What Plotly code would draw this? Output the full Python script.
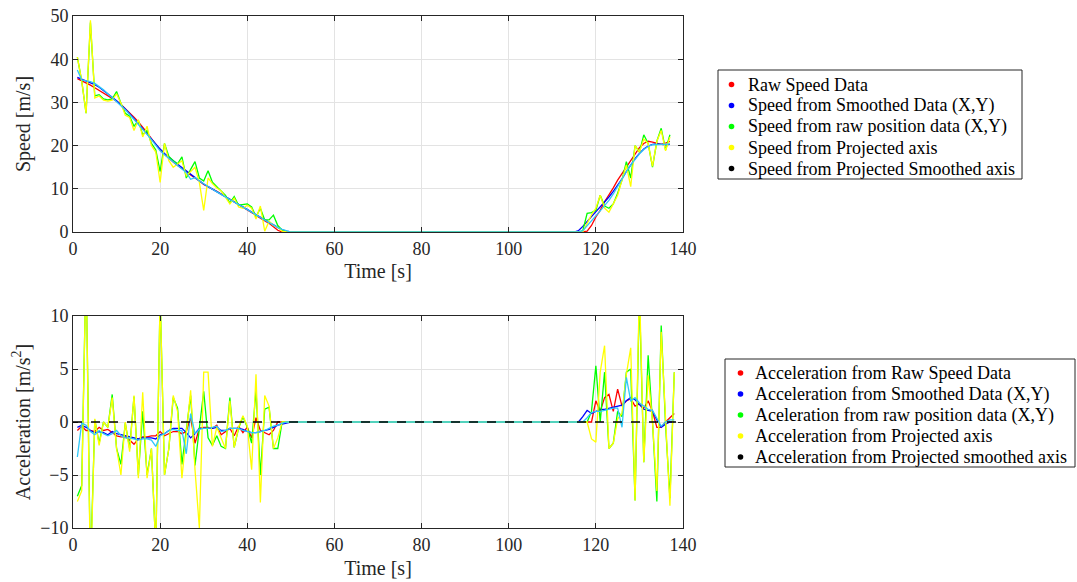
import plotly.graph_objects as go

# ---------------- data ----------------
t_speed = list(range(1, 51)) + list(range(115, 138))
t_acc = list(range(1, 51)) + list(range(115, 139))

speed_raw = [35.5, 35, 34.6, 34, 33.4, 32.8, 32.2, 31.6, 31, 30.3,
             29.5, 28.6, 27.6, 26.6, 25.5, 24.3, 23, 21.6, 20.2, 19,
             18, 17, 16.2, 15.4, 14.8, 14, 13.2, 12.6, 11.8, 11,
             10.5, 10, 9.4, 8.8, 8.2, 7.6, 7, 6.3, 5.6, 5,
             4.5, 3.8, 3.2, 2.6, 2, 1.2, 0.4, 0, 0, 0,
             0, 0, 0, 0.2, 1.5, 3.5, 5, 7, 8.5, 10.2,
             12, 13.5, 15, 16.5, 18, 19.5, 20.5, 21, 20.8, 20.5,
             20.3, 20.6, 21]
speed_smooth = [35.8, 35.4, 35, 34.6, 34.1, 33.5, 32.8, 32, 31.2, 30.4,
                29.5, 28.5, 27.4, 26.3, 25.1, 23.9, 22.7, 21.5, 20.3, 19.2,
                18.2, 17.3, 16.5, 15.7, 14.9, 14.1, 13.3, 12.5, 11.8, 11.1,
                10.5, 9.9, 9.3, 8.7, 8.1, 7.5, 6.9, 6.3, 5.7, 5.1,
                4.5, 3.9, 3.3, 2.7, 2.1, 1.5, 1.0, 0.5, 0.2, 0,
                0, 0.3, 1.3, 2.4, 3.5, 4.6, 5.7, 6.9, 8.1, 9.4,
                10.8, 12.3, 14, 15.6, 17, 18.2, 19.2, 19.9, 20.3, 20.4,
                20.3, 20.2, 20.3]
speed_rawpos = [40.5, 35, 27.5, 48.5, 31.5, 31.8, 30.8, 30.6, 30.8, 32.5,
                29.8, 27.5, 26.8, 24.5, 25.8, 22.5, 23.5, 20.5, 19, 14,
                20.5, 17.5, 16.5, 15.8, 17.4, 12.5, 14.5, 16.3, 12.5, 11.8,
                14.2, 11.5, 10.5, 9.6, 8.5, 6.7, 8.2, 6.2, 6.3, 6.5,
                5.8, 3.5, 5.5, 2.8, 2.8, 3.9, 1.5, 0.4, 0, 0,
                0, 0, 0.3, 4.3, 4.5, 5, 8.5, 6, 5.5, 6.5,
                9, 12, 16.3, 12.5, 20, 18.5, 22.5, 20.5, 15, 21,
                24, 19, 22.5]
speed_proj = [40.5, 35, 27.5, 49, 31, 31.5, 30.5, 30.3, 30.5, 32,
              29.8, 27, 26.5, 23.5, 26, 22, 24.5, 20, 18.5, 11.5,
              20.5, 16.5, 15, 15.8, 16.5, 13, 14, 15, 11.5, 5,
              12.5, 11.2, 10.2, 9.5, 8, 6.5, 7.8, 5.8, 5.5, 6.2,
              5.5, 3, 6, 0.2, 2.5, 1.5, 1.1, 0.2, 0, 0,
              0, 0, 0, 2, 4, 5.5, 8.5, 5.5, 4.6, 6.5,
              8.5, 12, 15.5, 10.5, 20, 18.5, 21.5, 20.5, 15.2, 21,
              23.5, 18.8, 22]
speed_projsmooth = [37.5, 35.2, 35, 34.8, 34.4, 33.7, 32.9, 32, 31.1, 30.2,
                    29.3, 28.3, 27.2, 26.1, 25, 23.8, 22.6, 21.4, 20.2, 18.8,
                    17.9, 17, 16.2, 15.4, 14.6, 13.8, 12.2, 12.6, 11.8, 11.1,
                    10.5, 9.9, 9.3, 8.7, 8.1, 7.5, 6.9, 6.3, 5.7, 5.1,
                    4.5, 3.9, 3.3, 2.7, 2.1, 1.5, 1.0, 0.6, 0.3, 0,
                    0, 0, 0.3, 1.4, 2.6, 3.8, 4.9, 6.1, 7.3, 8.8,
                    10.6, 12.3, 14, 15.5, 16.9, 18.1, 19.1, 19.8, 20.2, 20.3,
                    20.3, 20.3, 20.4]

acc_raw = [-0.8, -0.4, -0.8, -0.8, -0.9, -0.5, -0.8, -0.7, -1, -1.3,
           -1.4, -1.4, -1.7, -2.1, -1.6, -1.4, -1.4, -1.3, -1.3, -0.9,
           -1.3, -1.1, -0.9, -0.9, -1.1, -0.9, 0.4, -2, -0.6, -0.5,
           -0.5, -0.6, -0.3, -1.2, -0.9, -0.6, -1.3, -0.4, -1, -0.5,
           -1.5, 0.4, -0.8, -1, -1.2, -0.8, 0, 0, 0, 0,
           0, 0, 0, 0, 0, 2, 1, 2.3, 2.6, 1,
           3.1, 1.5, 2, 2.2, 1.5, 1.7, 1.3, 2, 1, -0.5,
           -0.5, 0, 0.4, 0.8]
acc_smooth = [-0.5, -0.3, -0.5, -0.8, -1, -0.9, -1, -1.2, -0.9, -1.1,
              -1.2, -1.3, -1.4, -1.5, -1.6, -1.5, -1.5, -1.5, -1.6, -1.2,
              -1.1, -0.8, -0.6, -0.6, -0.6, -1.0, -1.5, -1.1, -0.6, -0.6,
              -0.6, -0.6, -0.5, -0.8, -0.8, -0.6, -0.6, -0.6, -0.7, -0.9,
              -1, -1, -0.9, -0.8, -0.7, -0.5, -0.3, -0.2, -0.1, 0,
              0, 0, 0.5, 1.1, 0.8, 1, 1.2, 1.2, 1.3, 1.4,
              1.5, 1.6, 2.0, 2.3, 2.1, 1.6, 1.2, 1.1, 1.0, 0.2,
              -0.5, -0.2, 0, 0]
acc_rawpos = [-7, -6, 15, -14, 0.2, -2, 0, -0.5, 2.6, -2.5,
              -4, -0.1, -2.5, 2.4, -5, 1, -5, -2.5, -12, 12,
              -5, -2.5, 2.3, 1.3, -4, -1, 2.5, -4.1, -0.5, 2.9,
              -1.5, -2.2, -1.3, -2.3, -2.5, 2.3, -2.4, -0.6, 0.5, -0.5,
              -2, 3, -5, 1.2, 1.4, -2.5, -2.5, 0, 0, 0,
              0, 0, 0, 0, 1, 5.3, 0, 4.7, -2.5, -2,
              1, 0.5, 4.7, 5, -7.4, 12, -3.8, 6.3, 0, -7.5,
              9.1, -0.3, -7.2, 4.7]
acc_proj = [-7.5, -6.5, 15, -15, 0.3, -2.2, 0, -0.5, 2.3, -2.5,
            -5, 0, -2.8, 2.5, -5.3, 2.8, -5.3, -2.5, -12, 12,
            -5, -2.5, 2.5, 1, -5.3, -1, 3, -4.5, -10, 4.7,
            4.7, -2.3, -0.5, -1.5, -2.5, 2, -2.4, -0.5, 0.6, -0.4,
            -4.5, 4.5, -7.6, 2.5, 1.5, -2.5, -1.5, 0, 0, 0,
            0, 0, 0, 0, -1.6, -1.9, 4.7, 7.2, -2.5, -2,
            0.3, 0.8, 4.5, 7, -7.4, 13, -3.8, 4.4, 0, -6.5,
            8.5, -0.3, -7.9, 4.7]
acc_projsmooth = [-3.3, -0.1, -0.3, -0.9, -1.2, -0.8, -1.1, -1.3, -1.1, -0.8,
                  -1.3, -1.5, -1.5, -1.6, -1.7, -1.6, -1.6, -1.7, -2.3, -1.3,
                  -1.1, -0.8, -0.7, -0.8, -0.8, -3, 0.8, -1.1, -0.7, -0.6,
                  -0.6, -0.5, -0.4, -0.9, -0.8, -0.6, -0.6, -0.6, -0.8, -0.9,
                  -1, -1, -0.9, -0.8, -0.6, -0.4, -0.3, -0.1, 0, 0,
                  0, 0, 0, 0.4, 0.9, 1, 1, 1.1, 1.2, 1.3,
                  1.3, -0.5, 4.2, 2.0, 2.3, 1.8, 1.5, 1.2, 1.1, 0.3,
                  -0.4, 0, 0.2, 0.2]

speed_names = ["Raw Speed Data", "Speed from Smoothed Data (X,Y)",
               "Speed from raw position data (X,Y)", "Speed from Projected axis",
               "Speed from Projected Smoothed axis"]
acc_names = ["Acceleration from Raw Speed Data", "Acceleration from Smoothed Data (X,Y)",
             "Aceleration from raw position data (X,Y)", "Acceleration from Projected axis",
             "Acceleration from Projected smoothed axis"]
legend_colors = ["#ff0000", "#0000ff", "#00ff00", "#ffff00", "#000000"]
line_colors = ["#ff0000", "#0000ff", "#00ff00", "#ffff00", "#2ec8f8"]

FONT = "Liberation Serif, Times New Roman, serif"
AX = "#262626"
GRID = "#e3e3e3"
W, H = 1077, 582

fig = go.Figure()

speed_series = [speed_raw, speed_smooth, speed_rawpos, speed_proj, speed_projsmooth]
acc_series = [acc_raw, acc_smooth, acc_rawpos, acc_proj, acc_projsmooth]

for ys, c, n in zip(speed_series, line_colors, speed_names):
    fig.add_trace(go.Scatter(x=t_speed, y=ys, mode="lines", name=n,
                             line=dict(color=c, width=1.3),
                             showlegend=False, xaxis="x", yaxis="y"))
for ys, c, n in zip(acc_series, line_colors, acc_names):
    fig.add_trace(go.Scatter(x=t_acc, y=ys, mode="lines", name=n,
                             line=dict(color=c, width=1.3),
                             showlegend=False, xaxis="x2", yaxis="y2"))

# zero reference line in acceleration plot
fig.add_shape(type="line", xref="x2 domain", yref="y2", x0=0, x1=1, y0=0, y1=0,
              line=dict(color="black", width=1.3, dash="dash"), layer="above")


# ---- MATLAB-like legend boxes (dot markers only) ----
def px(x):
    return x / W


def py(y):
    return 1 - y / H


def add_legend(names, colors, box, dot_x, text_x, y0, step):
    bx0, by0, bx1, by1 = box
    fig.add_shape(type="rect", xref="paper", yref="paper",
                  x0=px(bx0), x1=px(bx1), y0=py(by1), y1=py(by0),
                  line=dict(color=AX, width=1), fillcolor="white", layer="above")
    for i, (n, c) in enumerate(zip(names, colors)):
        yc = y0 + i * step
        fig.add_shape(type="circle", xref="paper", yref="paper",
                      x0=px(dot_x - 2.8), x1=px(dot_x + 2.8),
                      y0=py(yc + 2.8), y1=py(yc - 2.8),
                      line=dict(color=c, width=0), fillcolor=c, layer="above")
        fig.add_annotation(xref="paper", yref="paper", x=px(text_x), y=py(yc),
                           xanchor="left", yanchor="middle", showarrow=False,
                           text=n, font=dict(family=FONT, size=18, color="black"))


add_legend(speed_names, legend_colors, (718, 70, 1022, 179), 731.5, 746, 84.5, 21)
add_legend(acc_names, legend_colors, (725, 359, 1075, 467), 740.5, 753, 373, 21)

xd = [73 / W, 683 / W]
y1d = [1 - 232 / H, 1 - 16 / H]
y2d = [1 - 528 / H, 1 - 316 / H]

axis_common = dict(showline=True, linecolor=AX, linewidth=1, mirror="ticks",
                   ticks="inside", ticklen=5, tickcolor=AX, tickwidth=1,
                   showgrid=True, gridcolor=GRID, gridwidth=1, zeroline=False,
                   tickfont=dict(family=FONT, size=18, color=AX), automargin=False)
TF = dict(family=FONT, size=20, color=AX)

fig.update_layout(
    width=W, height=H,
    margin=dict(l=0, r=0, t=0, b=0),
    paper_bgcolor="white", plot_bgcolor="white",
    font=dict(family=FONT, color="black"),
    showlegend=False,
    xaxis=dict(domain=xd, range=[0, 140], dtick=20, anchor="y",
               title=dict(text="Time [s]", font=TF, standoff=6), **axis_common),
    yaxis=dict(domain=y1d, range=[0, 50], dtick=10, anchor="x",
               title=dict(text="Speed [m/s]", font=TF, standoff=14), **axis_common),
    xaxis2=dict(domain=xd, range=[0, 140], dtick=20, anchor="y2",
                title=dict(text="Time [s]", font=TF, standoff=7), **axis_common),
    yaxis2=dict(domain=y2d, range=[-10, 10], dtick=5, anchor="x2",
                title=dict(text="Acceleration [m/s<sup>2</sup>]", font=TF, standoff=4),
                **axis_common),
)

fig.write_html("out.html")
